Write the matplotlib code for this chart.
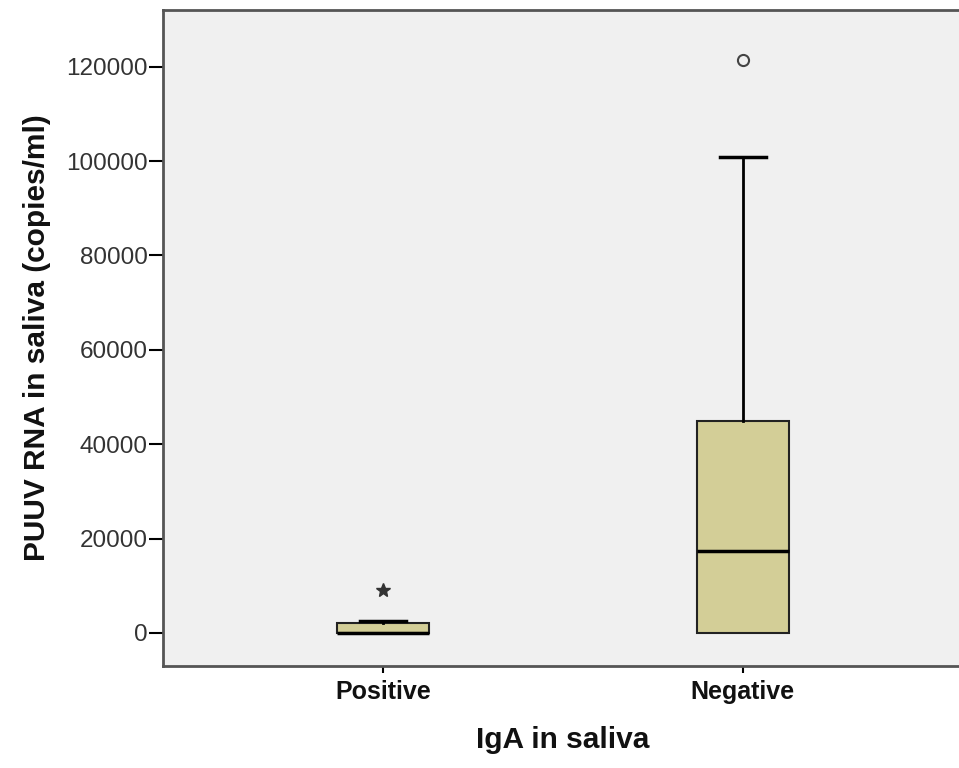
from matplotlib import pyplot as plt

# groups and box statistics (copies/ml)
groups = ['Positive', 'Negative']
q1 = [0, 0]
med = [0, 17400]
q3 = [2100, 44900]
whislo = [0, 0]
whishi = [2500, 100900]
outliers_star = [[9000], []]
outliers_circle = [[], [121500]]
yticks = [0, 20000, 40000, 60000, 80000, 100000, 120000]

plt.rcParams['font.family'] = ['Liberation Sans', 'DejaVu Sans']

fig = plt.figure(figsize=(9.59, 7.68), dpi=100)
ax = fig.add_axes([163/959, 1 - 666/768, (963 - 163)/959, (666 - 10)/768])
ax.set_facecolor('#f0f0f0')

stats = []
for i, g in enumerate(groups):
    stats.append(dict(label=g, q1=q1[i], med=med[i], q3=q3[i],
                      whislo=whislo[i], whishi=whishi[i], fliers=[]))

bp = ax.bxp(stats, positions=[1, 2], widths=0.255, patch_artist=True,
            boxprops=dict(facecolor='#d3ce97', edgecolor='#222222', linewidth=1.5),
            medianprops=dict(color='black', linewidth=2.5),
            whiskerprops=dict(color='black', linewidth=2),
            capprops=dict(color='black', linewidth=2.5),
            capwidths=0.127, showfliers=False)

# lower caps sit on the box bottom, hide them
for i in range(len(groups)):
    if whislo[i] == q1[i]:
        bp['caps'][2 * i].set_visible(False)

for i in range(len(groups)):
    if outliers_star[i]:
        ax.plot([i + 1] * len(outliers_star[i]), outliers_star[i], marker='*',
                ms=10, color='#333333', ls='none')
    if outliers_circle[i]:
        ax.plot([i + 1] * len(outliers_circle[i]), outliers_circle[i], marker='o',
                ms=8, mfc='none', mec='#444444', mew=1.5, ls='none')

ax.set_xlim(0.388, 2.612)
ax.set_ylim(-7000, 132000)
ax.set_yticks(yticks)
ax.set_yticklabels([str(t) for t in yticks], fontsize=17.5, color='#333333')
ax.set_xticks([1, 2])
ax.set_xticklabels(groups, fontsize=18, fontweight='bold', color='#111111')
ax.tick_params(axis='y', length=10, width=1.5, pad=1)
ax.tick_params(axis='x', length=5, width=1.5, pad=5)
for s in ax.spines.values():
    s.set_color('#555555')
    s.set_linewidth(2)

ax.set_ylabel('PUUV RNA in saliva (copies/ml)', fontsize=21.5, fontweight='bold',
              labelpad=11, color='#111111')
ax.set_xlabel('IgA in saliva', fontsize=21.5, fontweight='bold', labelpad=16,
              color='#111111')

fig.savefig('out.png', dpi=100)
